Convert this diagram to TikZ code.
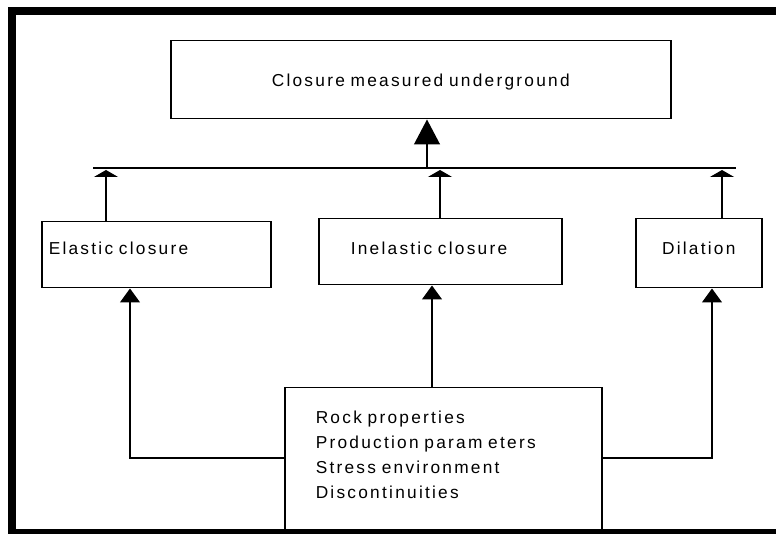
\documentclass[tikz,border=0pt]{standalone}
\usepackage{fontspec}
\newfontfamily\lblfont[LetterSpace=13,WordSpace=1.3]{Liberation Sans}
\usetikzlibrary{arrows.meta, calc}
\newcommand{\lbl}{\lblfont\fontsize{17.3}{25}\selectfont}

\begin{document}
\begin{tikzpicture}[x=1pt,y=1pt,
  box/.style={draw, line width=1.5pt, inner ysep=0pt, font=\lbl, anchor=north west},
  conn/.style={line width=1.3pt},
  tipsmall/.style={conn, -{Triangle[width=24pt,length=7pt]}},
  tipbig/.style={conn, -{Triangle[width=26pt,length=25pt]}},
  tipmid/.style={conn, -{Triangle[width=20pt,length=14pt]}}]
  \useasboundingbox (0,0) rectangle (776,533);
  % outer frame
  \draw[line width=8pt] (790,522) -- (12,522) -- (12,0) -- (790,0);

  \node[box, text width=488pt, align=center, inner xsep=6pt, text height=45.5pt, text depth=32.5pt]
    (top) at (170,493) {Closure measured underground};
  \node[box, text width=215pt, align=left, inner xsep=7pt, text height=32.5pt, text depth=33.5pt]
    (elastic) at (41,312) {Elastic closure};
  \node[box, text width=179pt, align=left, inner xsep=32pt, text height=36pt, text depth=30pt]
    (inelastic) at (318,315) {Inelastic closure};
  \node[box, text width=114pt, align=center, inner xsep=6pt, text height=36pt, text depth=33pt]
    (dilation) at (635,315) {Dilation};
  \node[box, text width=255pt, align=left, inner xsep=31pt, text height=36pt, text depth=125pt]
    (factors) at (284,146) {Rock properties\\Production param eters\\Stress environment\\Discontinuities};

  % collecting bar
  \coordinate (barL) at (93,365);
  \coordinate (barR) at (736,365);
  \draw[line width=2.5pt] (barL) -- (barR);
  \coordinate (j0) at (427,365);
  \coordinate (j1) at (106,365);
  \coordinate (j2) at (440,365);
  \coordinate (j3) at (722,365);
  \draw[tipbig] (j0) -- (j0 |- top.south);
  \draw[tipsmall] (elastic.north -| j1) -- ($(j1)+(0,-2)$);
  \draw[tipsmall] (inelastic.north -| j2) -- ($(j2)+(0,-2)$);
  \draw[tipsmall] (dilation.north -| j3) -- ($(j3)+(0,-2)$);

  % influencing factors
  \coordinate (kL) at (130,75);
  \coordinate (kM) at (432,146);
  \coordinate (kR) at (712,75);
  \draw[tipmid] (factors.west |- kL) -- (kL) -- (kL |- elastic.south);
  \draw[tipmid] (kM) -- (kM |- inelastic.south);
  \draw[tipmid] (factors.east |- kR) -- (kR) -- (kR |- dilation.south);
\end{tikzpicture}
\end{document}
